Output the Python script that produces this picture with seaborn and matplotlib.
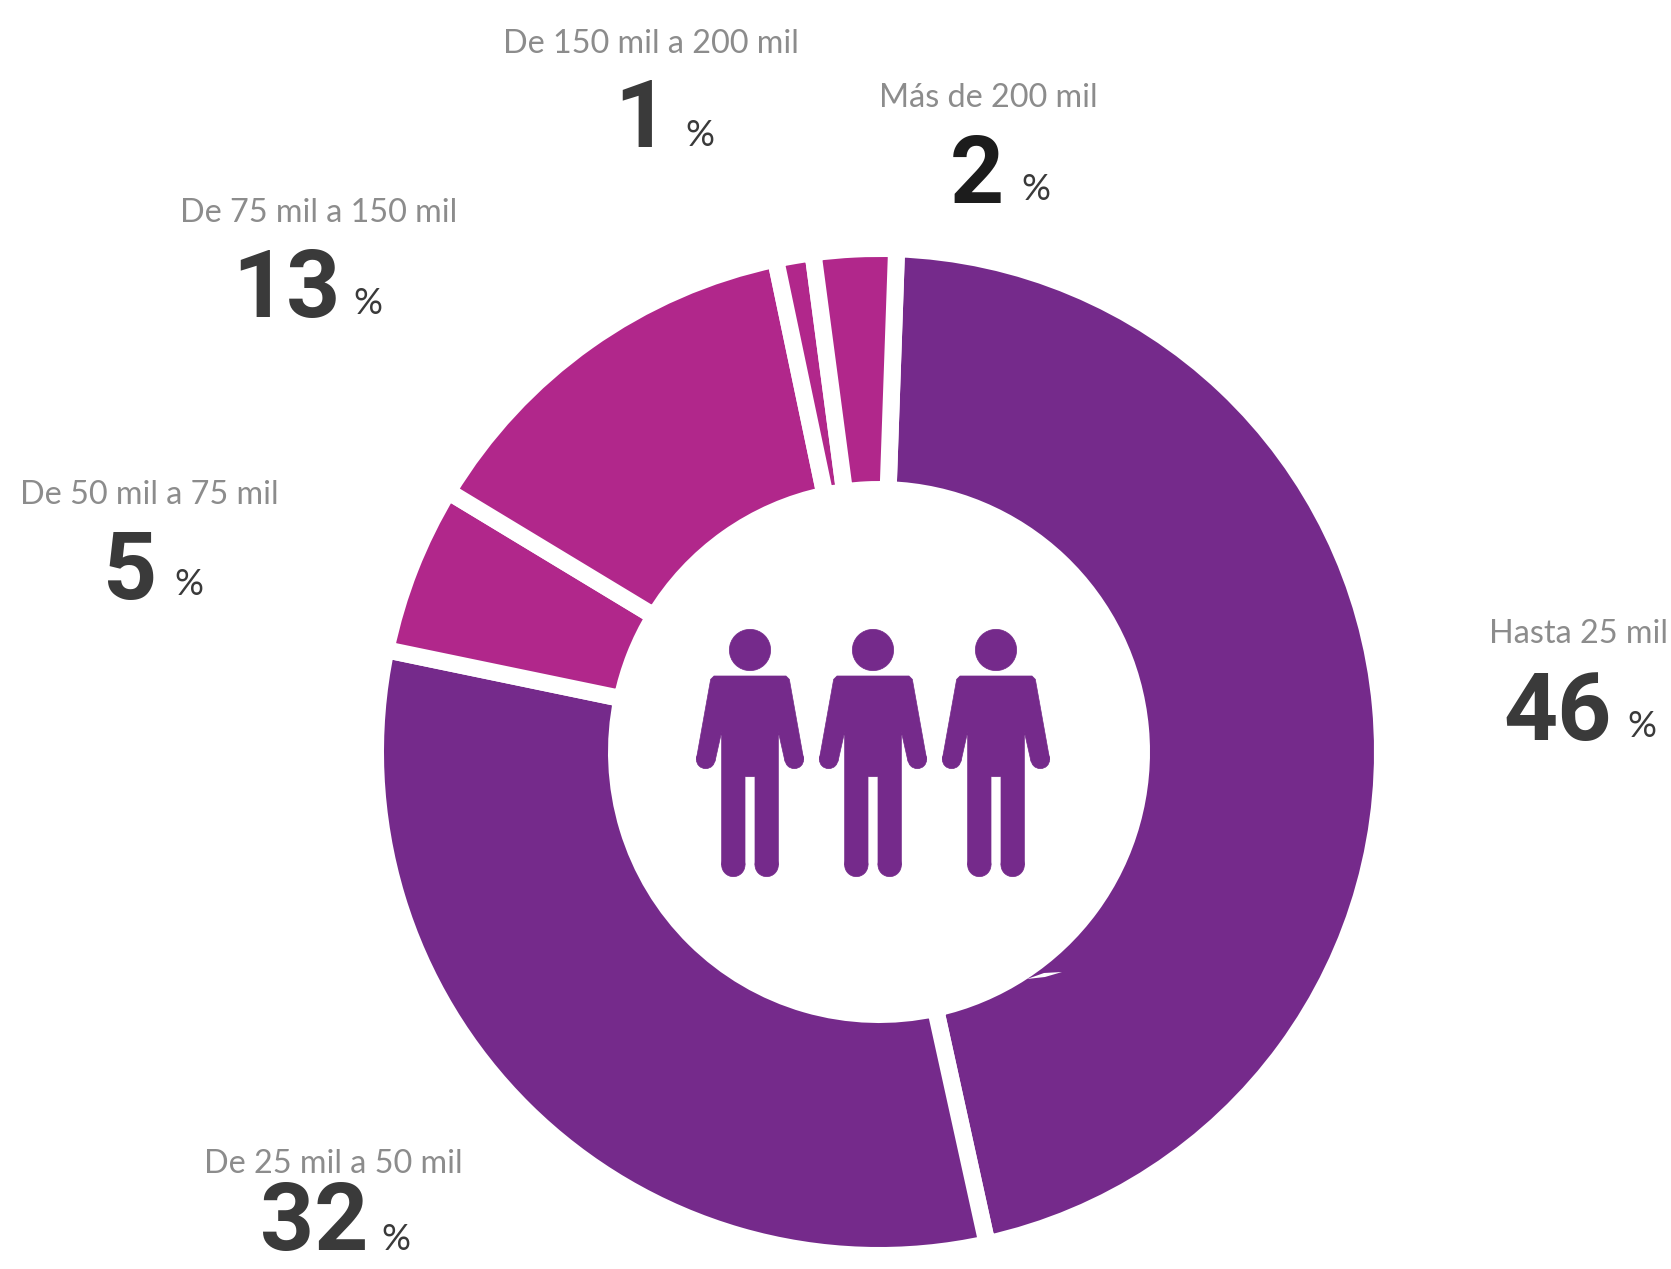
import matplotlib
matplotlib.use("Agg")
import matplotlib.pyplot as plt
from matplotlib.patches import Circle, Polygon
import seaborn as sns

# income brackets, clockwise from the top
categories = ["Hasta 25 mil", "De 25 mil a 50 mil", "De 50 mil a 75 mil",
              "De 75 mil a 150 mil", "De 150 mil a 200 mil", "Más de 200 mil"]
values = [46, 32, 5, 13, 1, 2]
# share of the ring each slice really takes in the picture (differs a bit from the printed %)
arc_shares = [46.0, 31.7, 5.4, 13.05, 1.2, 2.65]

PURPLE = "#752A8B"
MAGENTA = "#B1278B"
slice_colors = sns.color_palette([PURPLE, PURPLE, MAGENTA, MAGENTA, MAGENTA, MAGENTA])

# layout in pixels: label x, label baseline, number x, number baseline, % x, % baseline
text_layout = [
    (1489, 643, 1503, 740, 1627, 737),
    (204, 1173, 260, 1250, 381, 1250),
    (20, 504, 103, 599, 174, 595),
    (180, 222, 232, 317, 353, 314),
    (503, 53, 614, 147, 685, 146),
    (879, 107, 950, 203, 1021, 200),
]
number_colors = ["#3a3a3a", "#3a3a3a", "#3a3a3a", "#3a3a3a", "#3a3a3a", "#1c1c1c"]

WIDTH, HEIGHT = 1671, 1269
CENTER = (879, 752)
R_OUT, R_IN = 495, 271
GAP = 17  # white gap between slices, px

sns.set_theme(style="white")
plt.rcParams["font.family"] = ["Lato", "DejaVu Sans"]

fig = plt.figure(figsize=(WIDTH / 100, HEIGHT / 100), dpi=100, facecolor="white")
ax = fig.add_axes([0, 0, 1, 1])

# y axis runs downward so the axes work in picture pixels, which also makes the pie go clockwise
ax.pie(arc_shares, colors=slice_colors, center=CENTER, radius=R_OUT + GAP / 2,
       startangle=-88, counterclock=True,
       wedgeprops={"width": R_OUT - R_IN + GAP, "edgecolor": "white",
                   "linewidth": GAP * 72 / 100, "joinstyle": "round"})
ax.set_xlim(0, WIDTH)
ax.set_ylim(HEIGHT, 0)
ax.set_axis_off()

# small white nick on the inner edge of the big slice
ax.add_patch(Polygon([(1027, 979), (1044, 973), (1062, 972), (1045, 977)],
                     facecolor="white", edgecolor="none", zorder=3))


def draw_person(cx):
    s = 1 / 3
    top = 600
    half = [(108, 228), (118, 238), (161, 478), (105, 484), (85, 395), (85, 795), (15, 795), (15, 530)]
    pts = half + [(-x, y) for x, y in reversed(half)]
    style = {"facecolor": PURPLE, "edgecolor": PURPLE, "linewidth": 0.5, "zorder": 3}
    ax.add_patch(Polygon([(cx + x * s, top + y * s) for x, y in pts], **style))
    ax.add_patch(Circle((cx, top + 150 * s), 62 * s, **style))
    for side in (-1, 1):
        ax.add_patch(Circle((cx + side * 133 * s, top + 478 * s), 28 * s, **style))
        ax.add_patch(Circle((cx + side * 50 * s, top + 795 * s), 35 * s, **style))


for cx in (750, 873, 996):
    draw_person(cx)

for name, val, pos, col in zip(categories, values, text_layout, number_colors):
    ax.text(pos[0], pos[1], name, color="#8c8c8c", fontsize=23.3,
            ha="left", va="baseline")
    ax.text(pos[2], pos[3], str(val), color=col, fontsize=68, fontweight="bold",
            family=["Roboto", "DejaVu Sans"], ha="left", va="baseline")
    ax.text(pos[4], pos[5], "%", color="#3a3a3a", fontsize=26, ha="left", va="baseline")

fig.savefig("out.png", dpi=100, facecolor="white")
